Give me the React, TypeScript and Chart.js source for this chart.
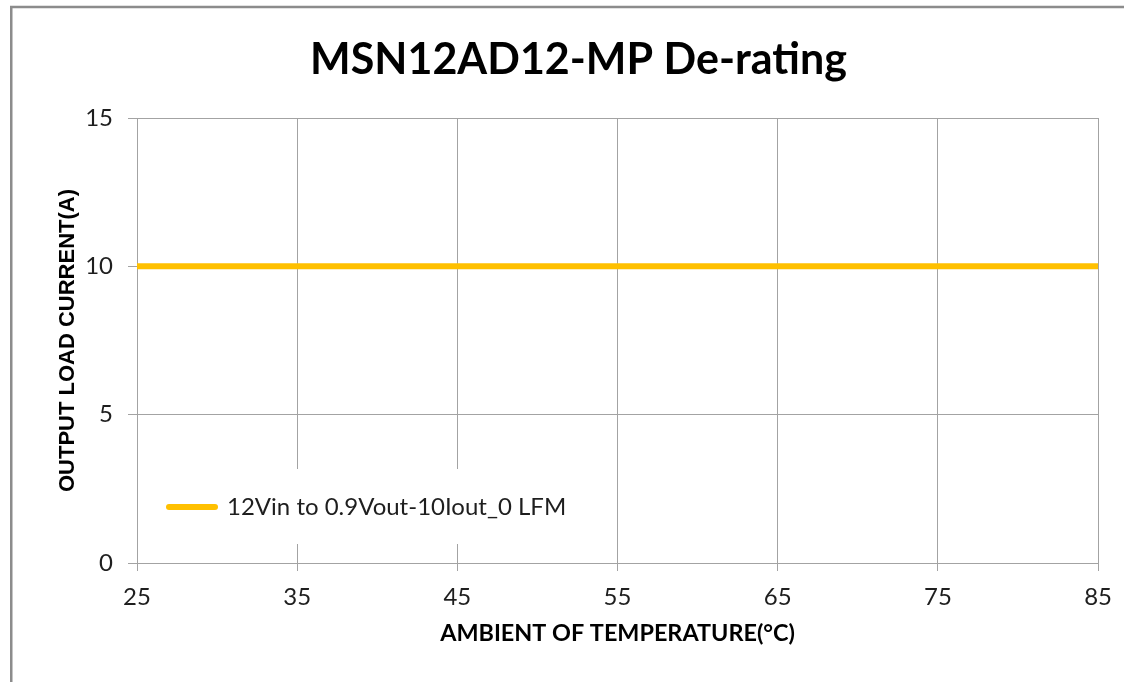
import React, { useEffect, useRef } from 'react';
import { Chart, registerables } from 'chart.js';

Chart.register(...registerables);

const chartTitle = 'MSN12AD12-MP De-rating';
const xAxisTitle = 'AMBIENT OF TEMPERATURE(°C)';
const yAxisTitle = 'OUTPUT LOAD CURRENT(A)';
const seriesName = '12Vin to 0.9Vout-10Iout_0 LFM';
const temperatures = [25, 35, 45, 55, 65, 75, 85];
const loadCurrent = [10, 10, 10, 10, 10, 10, 10];
const xTicks = { min: 25, max: 85, step: 10 };
const yTicks = { min: 0, max: 15, step: 5 };

const LINE_COLOR = '#FFC000';
const GRID_COLOR = '#A3A3A3';
const TEXT_COLOR = '#1e1e1e';
const FONT = 'Lato';
const LEGEND_FONT_SIZE = 24;

const framePlugin = {
  id: 'frame',
  beforeDraw(chart: any) {
    const ctx = chart.ctx;
    ctx.save();
    ctx.strokeStyle = '#8C8C8C';
    ctx.lineWidth = 2.5;
    ctx.strokeRect(11.25, 7, chart.width + 100, chart.height + 100);
    ctx.restore();
  },
};

const legendPlacePlugin = {
  id: 'legendPlace',
  afterLayout(chart: any) {
    const lg = chart.legend;
    if (!lg) return;
    const ca = chart.chartArea;
    const pad = lg.options.labels.padding;
    const w = lg.width;
    const h = lg.height;
    lg.left = ca.left + 32 - pad;
    lg.top = ca.bottom - 56 - LEGEND_FONT_SIZE / 2 - pad;
    lg.right = lg.left + w;
    lg.bottom = lg.top + h;
  },
  afterDraw(chart: any) {
    const lg = chart.legend;
    if (!lg) return;
    const ctx = chart.ctx;
    const pad = lg.options.labels.padding;
    const boxW = lg.options.labels.pointStyleWidth;
    ctx.save();
    ctx.font = `${LEGEND_FONT_SIZE}px ${FONT}`;
    const tw = ctx.measureText(seriesName).width;
    const x0 = lg.left + pad;
    const cy = lg.top + pad + LEGEND_FONT_SIZE / 2;
    const left = x0 - 16;
    const right = x0 + boxW + LEGEND_FONT_SIZE / 2 + tw + 14;
    ctx.fillStyle = '#ffffff';
    ctx.fillRect(left, cy - 38, right - left, 75);
    ctx.restore();
    lg.draw();
  },
};

export default function App() {
  const canvasRef = useRef<HTMLCanvasElement | null>(null);

  useEffect(() => {
    if (!canvasRef.current) return;
    const chart = new Chart(canvasRef.current, {
      type: 'line',
      data: {
        datasets: [
          {
            label: seriesName,
            data: temperatures.map((t, i) => ({ x: t, y: loadCurrent[i] })),
            borderColor: LINE_COLOR,
            backgroundColor: LINE_COLOR,
            borderWidth: 6,
            pointRadius: 0,
            pointHoverRadius: 0,
            tension: 0,
            fill: false,
          },
        ],
      },
      options: {
        responsive: false,
        animation: false,
        layout: { padding: { left: 55, right: 22, top: 0, bottom: 0 } },
        plugins: {
          tooltip: { enabled: false },
          title: {
            display: true,
            text: chartTitle,
            color: '#000',
            font: { family: FONT, size: 43, weight: 'bold' },
            padding: { top: 34, bottom: 32.4 },
          },
          legend: {
            display: true,
            position: 'chartArea',
            align: 'start',
            labels: {
              usePointStyle: true,
              pointStyle: 'line',
              pointStyleWidth: 46,
              padding: 10,
              color: TEXT_COLOR,
              font: { family: FONT, size: LEGEND_FONT_SIZE },
              generateLabels: (c: any) =>
                (Chart.defaults.plugins.legend.labels as any).generateLabels(c).map((it: any) => ({
                  ...it,
                  pointStyle: 'line',
                  lineWidth: 6,
                  lineCap: 'round',
                  strokeStyle: LINE_COLOR,
                  fontColor: TEXT_COLOR,
                })),
            },
          },
        },
        scales: {
          x: {
            type: 'linear',
            min: xTicks.min,
            max: xTicks.max,
            ticks: {
              stepSize: xTicks.step,
              color: TEXT_COLOR,
              padding: 12,
              font: { family: FONT, size: 24 },
            },
            grid: { color: GRID_COLOR, lineWidth: 1, tickLength: 8, drawTicks: true },
            border: { color: GRID_COLOR, width: 1 },
            title: {
              display: true,
              text: xAxisTitle,
              color: '#000',
              font: { family: FONT, size: 23.4, weight: 'bold' },
              padding: { top: 0, bottom: 35 },
            },
            afterFit(scale: any) {
              scale.height = 119;
            },
          },
          y: {
            type: 'linear',
            min: yTicks.min,
            max: yTicks.max,
            ticks: {
              stepSize: yTicks.step,
              color: TEXT_COLOR,
              padding: 15,
              font: { family: FONT, size: 24 },
            },
            grid: { color: GRID_COLOR, lineWidth: 1, tickLength: 9, drawTicks: true },
            border: { color: GRID_COLOR, width: 1 },
            title: {
              display: true,
              text: yAxisTitle,
              color: '#000',
              font: { family: 'Liberation Sans', size: 22, weight: 'bold' },
              padding: { top: 0, bottom: 0 },
            },
            afterFit(scale: any) {
              scale.width = 137 - 55;
            },
          },
        },
      },
      plugins: [framePlugin, legendPlacePlugin],
    } as any);
    return () => chart.destroy();
  }, []);

  return (
    <div style={{ position: 'absolute', left: 0, top: 0, width: 1124, height: 682, background: '#fff' }}>
      <canvas ref={canvasRef} width={1124} height={682} style={{ width: 1124, height: 682 }} />
    </div>
  );
}
